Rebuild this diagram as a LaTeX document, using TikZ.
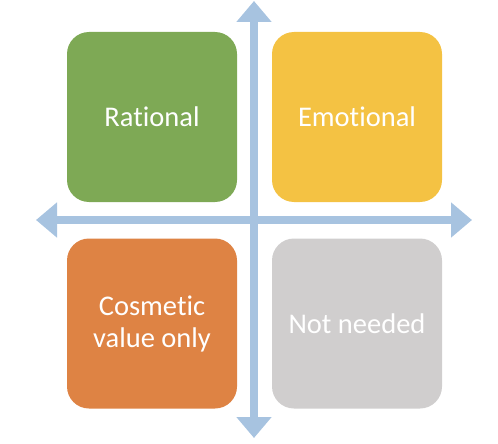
\documentclass[tikz,border=0pt]{standalone}
\usepackage{fontspec}
\setmainfont{Carlito}[Ligatures={NoCommon}]
\usetikzlibrary{arrows.meta}
\definecolor{cgreen}{HTML}{7EA955}
\definecolor{cyellow}{HTML}{F4C243}
\definecolor{corange}{HTML}{DE8344}
\definecolor{cgray}{HTML}{D0CECE}
\definecolor{cblue}{HTML}{A7C3E0}
\tikzset{
  quad/.style={rounded corners=22pt, minimum width=170pt, minimum height=170pt, inner sep=0pt,
    text=white, align=center, font=\fontsize{28.5}{32}\selectfont},
  axis/.style={draw=cblue, line width=8pt, {Triangle[width=34pt,length=21pt]}-{Triangle[width=34pt,length=21pt]}}
}
\begin{document}
\begin{tikzpicture}[x=1pt,y=-1pt]
\useasboundingbox (0,0) rectangle (498,444);
\node[quad, fill=cgreen] (rat) at (152,117) {Rational};
\node[quad, fill=cyellow] (emo) at (357,117) {Emotional};
\node[quad, fill=corange] (cos) at (152,323.5) {Cosmetic\\value only};
\node[quad, fill=cgray] (not) at (357,323.5) {Not needed};
\coordinate (left) at (36,220);
\coordinate (right) at (472,220);
\coordinate (top) at (254,1);
\coordinate (bottom) at (254,438);
\draw[axis] (left) -- (right);
\draw[axis] (bottom) -- (top);
\end{tikzpicture}
\end{document}
